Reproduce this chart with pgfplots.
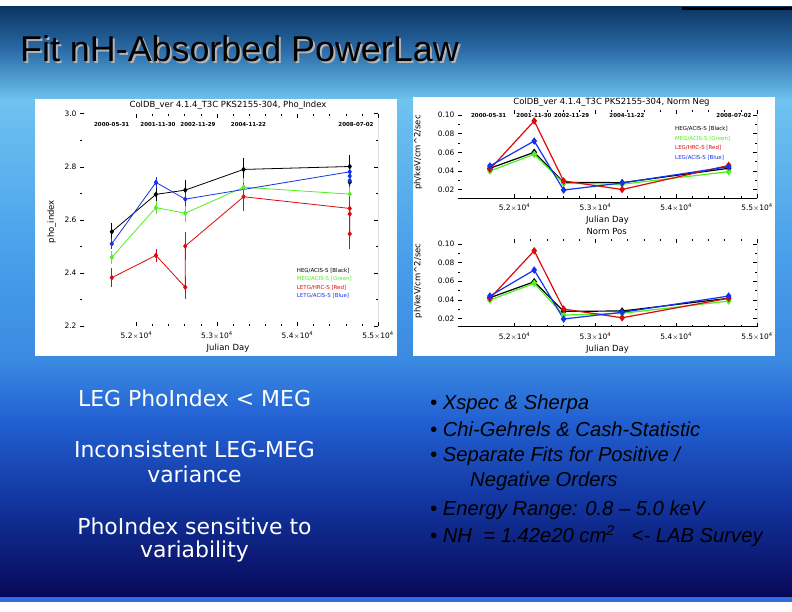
\documentclass[border=0pt]{standalone}
\usepackage{fontspec}
\setmainfont{DejaVu Sans}
\newfontfamily\arial{Liberation Sans}
\newfontfamily\arialit{Liberation Sans Italic}
\usepackage{pgfplots}
\pgfplotsset{compat=1.18}

\definecolor{cgreen}{RGB}{80,240,30}
\definecolor{cred}{RGB}{220,10,10}
\definecolor{cblue}{RGB}{20,50,235}
\definecolor{bgA}{HTML}{0B3562}
\definecolor{bgB}{HTML}{2B6CA8}
\definecolor{bgC}{HTML}{6EC3EF}
\definecolor{bgD}{HTML}{4AA0EA}
\definecolor{bgE}{HTML}{3A8AE2}
\definecolor{bgF}{HTML}{2260D2}
\definecolor{bgG}{HTML}{1236A0}
\definecolor{bgH}{HTML}{080858}
\definecolor{bgBar}{HTML}{2E6EE0}

\pgfplotsset{
  slideplot/.style={
    scale only axis, anchor=south west,
    axis line style={draw=none},
    tick style={black, line width=0.5pt},
    major tick length=4bp, minor tick length=2bp,
    scaled ticks=false,
    /pgf/number format/assume math mode=true,
    tick label style={font=\fontsize{7.5}{8}\selectfont},
    xticklabel style={yshift=-2bp},
    xmin=51300, xmax=55000,
    xtick={52000,53000,54000,55000},
    xticklabels={5.2$\times$10\textsuperscript{4},5.3$\times$10\textsuperscript{4},5.4$\times$10\textsuperscript{4},5.5$\times$10\textsuperscript{4}},
    minor x tick num=4,
    minor y tick num=1,
  },
  lser/.style={line width=0.8bp, mark=diamond*, mark size=2.2bp,
    error bars/.cd, y dir=both, y explicit,
    error bar style={line width=0.8bp},
    error mark options={mark size=3.5bp, line width=0.8bp}},
  rser/.style={line width=1.2bp, mark=diamond*, mark size=2.8bp},
}

\begin{document}
\begin{tikzpicture}[x=1bp,y=1bp]
% background
\fill[white] (0,0) rectangle (792,612);
\shade[top color=bgA, bottom color=bgB] (0,561.5) rectangle (792,605);
\shade[top color=bgB, bottom color=bgC] (0,511.5) rectangle (792,562);
\shade[top color=bgC, bottom color=bgD] (0,361.5) rectangle (792,512);
\shade[top color=bgD, bottom color=bgE] (0,251.5) rectangle (792,362);
\shade[top color=bgE, bottom color=bgF] (0,191.5) rectangle (792,252);
\shade[top color=bgF, bottom color=bgG] (0,111.5) rectangle (792,192);
\shade[top color=bgG, bottom color=bgH] (0,15) rectangle (792,112);
\fill[bgBar] (0,10) rectangle (792,15);
\fill[black] (682,602) rectangle (792,605);
% white panels
\fill[white] (35,256) rectangle (397,513);
\fill[white] (413,256) rectangle (775,515);

% bullets
\node[anchor=base west, inner sep=0pt, text=black, font=\arialit\fontsize{20.3}{22}\selectfont] at (430,202) {• Xspec \& Sherpa};
\node[anchor=base west, inner sep=0pt, text=black, font=\arial\fontsize{20.3}{22}\selectfont\itshape] at (430,175) {• Chi-Gehrels \& Cash-Statistic};
\node[anchor=base west, inner sep=0pt, text=black, font=\arialit\fontsize{20.3}{22}\selectfont] at (430,150) {• Separate Fits for Positive /};
\node[anchor=base west, inner sep=0pt, text=black, font=\arialit\fontsize{20.3}{22}\selectfont] at (470,125) {Negative Orders};
\node[anchor=base west, inner sep=0pt, text=black, font=\arialit\fontsize{20.3}{22}\selectfont] at (430,96) {• Energy Range: 0.8 – 5.0 keV};
\node[anchor=base west, inner sep=0pt, text=black, font=\arialit\fontsize{20.3}{22}\selectfont] at (430,69) {• NH\ \ = 1.42e20 cm\textsuperscript{2}\ \ \ <- LAB Survey};

% ---------------- left plot ----------------
\begin{axis}[slideplot, at={(80bp,286bp)}, width=298bp, height=212.3bp,
  ymin=2.2, ymax=3.0, ytick={2.2,2.4,2.6,2.8,3.0},
  yticklabels={2.2,2.4,2.6,2.8,3.0}]
\addplot[black, lser] table[x=x, y=y, y error=e, row sep=\\] {
x y e\\
51695 2.555 0.019\\
52243 2.696 0.018\\
52607 2.712 0.026\\
53331 2.790 0.029\\
54649 2.801 0.031\\
54649 2.742 0.012\\
};
\addplot[cgreen, lser] table[x=x, y=y, y error=e, row sep=\\] {
x y e\\
51695 2.459 0.012\\
52243 2.646 0.010\\
52607 2.625 0.021\\
53331 2.723 0.022\\
54649 2.697 0.019\\
};
\addplot[cred, lser] table[x=x, y=y, y error=e, row sep=\\] {
x y e\\
51695 2.382 0.022\\
52243 2.466 0.010\\
52607 2.346 0.030\\
52607 2.501 0.040\\
53331 2.687 0.040\\
54649 2.643 0.035\\
54649 2.622 0.020\\
54649 2.547 0.042\\
};
\addplot[cblue, lser] table[x=x, y=y, y error=e, row sep=\\] {
x y e\\
51695 2.510 0.008\\
52243 2.741 0.007\\
52607 2.678 0.013\\
54649 2.781 0.012\\
54649 2.765 0.010\\
54649 2.748 0.010\\
};
\draw[black, line width=0.6bp] (rel axis cs:0,0) -- (rel axis cs:1,0) -- (rel axis cs:1,1);
\end{axis}

% ---------------- right top: Norm Neg ----------------
\begin{axis}[slideplot, at={(458bp,413.9bp)}, width=299bp, height=87.8bp,
  ymin=0.011, ymax=0.105, ytick={0.02,0.04,0.06,0.08,0.10},
  yticklabels={0.02,0.04,0.06,0.08,0.10}]
\addplot[black, rser] coordinates {(51695,0.0429) (52243,0.0600) (52607,0.0279) (53331,0.0275) (54649,0.0429)};
\addplot[cgreen, rser] coordinates {(51695,0.0400) (52243,0.0579) (52607,0.0268) (53331,0.0258) (54649,0.0393)};
\addplot[cred, rser] coordinates {(51695,0.0420) (52243,0.0936) (52607,0.0293) (53331,0.0202) (54649,0.0460)};
\addplot[cblue, rser] coordinates {(51695,0.0454) (52243,0.0721) (52607,0.0196) (53331,0.0272) (54649,0.0446)};
\draw[black, line width=0.6bp] (rel axis cs:0,0) -- (rel axis cs:1,0) -- (rel axis cs:1,1);
\end{axis}

% ---------------- right bottom: Norm Pos ----------------
\begin{axis}[slideplot, at={(458bp,285.3bp)}, width=299bp, height=87.3bp,
  ymin=0.011, ymax=0.105, ytick={0.02,0.04,0.06,0.08,0.10},
  yticklabels={0.02,0.04,0.06,0.08,0.10}]
\addplot[black, rser] coordinates {(51695,0.0422) (52243,0.0594) (52607,0.0275) (53331,0.0279) (54649,0.0416)};
\addplot[cgreen, rser] coordinates {(51695,0.0397) (52243,0.0577) (52607,0.0235) (53331,0.0254) (54649,0.0386)};
\addplot[cred, rser] coordinates {(51695,0.0415) (52243,0.0928) (52607,0.0300) (53331,0.0206) (54649,0.0416)};
\addplot[cblue, rser] coordinates {(51695,0.0440) (52243,0.0720) (52607,0.0193) (53331,0.0265) (54649,0.0440)};
\draw[black, line width=0.6bp] (rel axis cs:0,0) -- (rel axis cs:1,0) -- (rel axis cs:1,1);
\end{axis}

% plot texts
\begin{scope}[every node/.style={inner sep=0pt, font=\fontsize{8.5}{9}\selectfont}]
\node at (228,507) {ColDB\_ver 4.1.4\_T3C PKS2155-304, Pho\_Index};
\node at (611.5,510) {ColDB\_ver 4.1.4\_T3C PKS2155-304, Norm Neg};
\node at (606.7,380.3) {Norm Pos};
\node at (228,263.7) {Julian Day};
\node at (607.5,392) {Julian Day};
\node at (607.5,262.7) {Julian Day};
\node[rotate=90] at (51.7,390.3) {pho\_index};
\node[rotate=90] at (418,459.5) {ph/keV/cm\textasciicircum 2/sec};
\node[rotate=90] at (418,331) {ph/keV/cm\textasciicircum 2/sec};
\end{scope}
\begin{scope}[every node/.style={inner sep=0pt, font=\bfseries\fontsize{5.5}{6}\selectfont}]
\node at (111.7,487.7) {2000-05-31};
\node at (158,487.7) {2001-11-30};
\node at (198,487.7) {2002-11-29};
\node at (248.5,487.7) {2004-11-22};
\node at (356,487.7) {2008-07-02};
\node at (488.7,496.3) {2000-05-31};
\node at (534,496.3) {2001-11-30};
\node at (571.7,496.3) {2002-11-29};
\node at (627,496.3) {2004-11-22};
\node at (734,496.3) {2008-07-02};
\end{scope}
\begin{scope}[every node/.style={inner sep=0pt, anchor=west, font=\fontsize{5.5}{6}\selectfont}]
\node[text=black] at (296.7,341.3) {HEG/ACIS-S [Black]};
\node[text=cgreen] at (296.7,333) {MEG/ACIS-S [Green]};
\node[text=cred] at (296.7,324.7) {LETG/HRC-S [Red]};
\node[text=cblue] at (296.7,316.3) {LETG/ACIS-S [Blue]};
\node[text=black] at (675,483.7) {HEG/ACIS-S [Black]};
\node[text=cgreen] at (675,473.7) {MEG/ACIS-S [Green]};
\node[text=cred] at (675,464.7) {LEG/HRC-S [Red]};
\node[text=cblue] at (675,454.7) {LEG/ACIS-S [Blue]};
\end{scope}

% slide title
\node[anchor=base west, inner sep=0pt, text=gray!60, font=\arial\fontsize{36}{40}\selectfont] at (22,548) {Fit nH-Absorbed PowerLaw};
\node[anchor=base west, inner sep=0pt, text=black, font=\arial\fontsize{36}{40}\selectfont] at (20,550) {Fit nH-Absorbed PowerLaw};

% left text
\begin{scope}[every node/.style={anchor=base, inner sep=0pt, text=white, font=\fontsize{22}{24}\selectfont}]
\node at (194.5,205.3) {LEG PhoIndex < MEG};
\node at (194.5,154.7) {Inconsistent LEG-MEG};
\node at (194.5,129.3) {variance};
\node at (194.5,77) {PhoIndex sensitive to};
\node at (194.5,54) {variability};
\end{scope}
\pgfresetboundingbox
\path[use as bounding box] (0,0) rectangle (792,612);
\end{tikzpicture}
\end{document}
